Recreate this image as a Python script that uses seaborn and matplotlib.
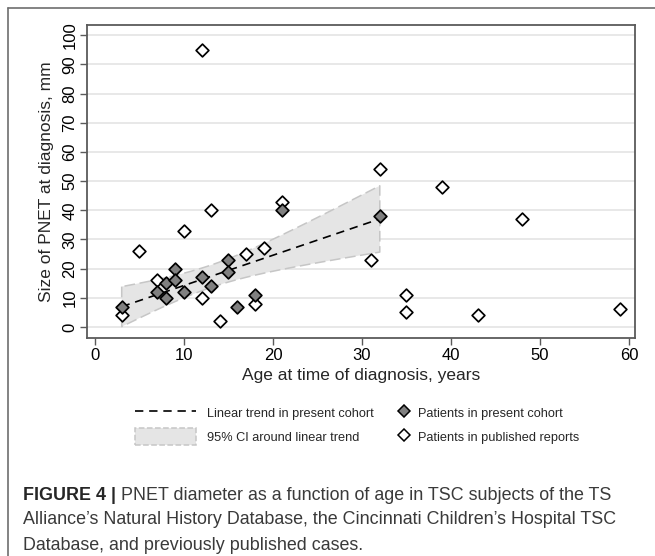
import matplotlib
matplotlib.use("Agg")
import matplotlib.pyplot as plt
from matplotlib.lines import Line2D
from matplotlib.patches import Patch
import seaborn as sns
import numpy as np
import pandas as pd

# Patients in present cohort (filled diamonds)
cohort_age = [3, 7, 8, 8, 9, 9, 10, 12, 13, 15, 15, 16, 18, 21, 32]
cohort_size = [7, 12, 15, 10, 20, 16, 12, 17, 14, 23, 19, 7, 11, 40, 38]

# Patients in published reports (open diamonds)
published_age = [3, 5, 7, 10, 12, 12, 13, 14, 17, 18, 19, 21, 31, 32, 35, 35, 39, 43, 48, 59]
published_size = [4, 26, 16, 33, 95, 10, 40, 2, 25, 8, 27, 43, 23, 54, 11, 5, 48, 4, 37, 6]

x_ticks = [0, 10, 20, 30, 40, 50, 60]
y_ticks = [0, 10, 20, 30, 40, 50, 60, 70, 80, 90, 100]

legend_labels = ["Linear trend in present cohort", "95% CI around linear trend",
                 "Patients in present cohort", "Patients in published reports"]

caption_bold = "FIGURE 4 |"
caption_lines = [
    " PNET diameter as a function of age in TSC subjects of the TS",
    "Alliance\u2019s Natural History Database, the Cincinnati Children\u2019s Hospital TSC",
    "Database, and previously published cases.",
]

T_975_DF13 = 2.160  # two-sided 95% t quantile, 13 degrees of freedom

sns.set_style("white")
plt.rcParams["font.family"] = ["Liberation Sans", "DejaVu Sans"]

FILL_GREY = "#808080"
SPINE = "#5a5a5a"

df_cohort = pd.DataFrame({"age": cohort_age, "size": cohort_size})
df_pub = pd.DataFrame({"age": published_age, "size": published_size})

fig = plt.figure(figsize=(6.55, 5.56), dpi=100)
ax = fig.add_axes([0.1328, 0.392, 0.837, 0.563])

# 95% CI band of the linear fit (analytic)
x = np.array(cohort_age, dtype=float)
y = np.array(cohort_size, dtype=float)
slope, intercept = np.polyfit(x, y, 1)
resid = y - (intercept + slope * x)
s = np.sqrt(np.sum(resid ** 2) / (len(x) - 2))
grid = np.linspace(x.min(), x.max(), 100)
se = s * np.sqrt(1 / len(x) + (grid - x.mean()) ** 2 / np.sum((x - x.mean()) ** 2))
fit = intercept + slope * grid
ax.fill_between(grid, fit - T_975_DF13 * se, fit + T_975_DF13 * se,
                facecolor="#e5e5e5", edgecolor="#c6c6c6", linewidth=1.1,
                linestyle=(0, (7, 3)), zorder=1)

sns.regplot(data=df_cohort, x="age", y="size", ax=ax, ci=None, scatter=False,
            truncate=True,
            line_kws={"color": "black", "lw": 1.2, "dashes": (5, 3.5), "zorder": 2})

sns.scatterplot(data=df_pub, x="age", y="size", ax=ax, marker="D", s=42,
                color="white", edgecolor="black", linewidth=1.25, zorder=3)
sns.scatterplot(data=df_cohort, x="age", y="size", ax=ax, marker="D", s=42,
                color=FILL_GREY, edgecolor="black", linewidth=1.25, zorder=4)

ax.set_xlim(-0.9, 60.7)
ax.set_ylim(-3.8, 103.5)
ax.set_xticks(x_ticks)
ax.set_yticks(y_ticks)
ax.yaxis.grid(True, color="#e6e6e6", lw=1.3)
ax.set_axisbelow(True)
for sp in ax.spines.values():
    sp.set_color(SPINE)
    sp.set_linewidth(1.3)
ax.tick_params(axis="both", direction="out", length=5, width=1, color=SPINE,
               labelsize=12, labelcolor="black", left=True, bottom=True, pad=2)
ax.tick_params(axis="y", labelrotation=90)
for lab in ax.get_yticklabels():
    lab.set_va("center")

ax.set_xlabel("Age at time of diagnosis, years", fontsize=12.5, labelpad=4)
ax.set_ylabel("Size of PNET at diagnosis, mm", fontsize=12.5, labelpad=6)

# legends
line_h = Line2D([], [], color="black", lw=1.2, dashes=(5, 3.5))
ci_h = Patch(facecolor="#e5e5e5", edgecolor="#c6c6c6", linestyle="--", linewidth=1.1)
filled_h = Line2D([], [], marker="D", ls="", mfc=FILL_GREY, mec="black", mew=1.1, ms=6.5)
open_h = Line2D([], [], marker="D", ls="", mfc="white", mec="black", mew=1.1, ms=6.5)

leg_kw = dict(frameon=False, fontsize=9.2, handleheight=1.6, labelspacing=0.55,
              borderpad=0, borderaxespad=0, loc="upper left")
leg1 = fig.legend([line_h, ci_h], legend_labels[:2], bbox_to_anchor=(135 / 655, 1 - 405 / 556),
                  handlelength=4.8, handletextpad=0.8, **leg_kw)
leg2 = fig.legend([filled_h, open_h], legend_labels[2:], bbox_to_anchor=(398 / 655, 1 - 405 / 556),
                  handlelength=0.9, handletextpad=0.7, numpoints=1, **leg_kw)

# outer frame
fig.add_artist(Line2D([7.5 / 655, 1], [1 - 8 / 556, 1 - 8 / 556], color="#6e6e6e", lw=1.2,
                      transform=fig.transFigure))
fig.add_artist(Line2D([7.5 / 655, 7.5 / 655], [0, 1 - 8 / 556], color="#6e6e6e", lw=1.2,
                      transform=fig.transFigure))

# caption
cap_x = 23 / 655
cap_y = [495, 520, 545]
cap_size = 12.9
bold = fig.text(cap_x, 1 - cap_y[0] / 556, caption_bold, fontsize=cap_size, fontweight="bold",
                color="#262626", va="center", ha="left")
fig.canvas.draw()
bb = bold.get_window_extent(renderer=fig.canvas.get_renderer())
fig.text(bb.x1 / fig.bbox.width, 1 - cap_y[0] / 556, caption_lines[0], fontsize=cap_size,
         color="#3a3a3a", va="center", ha="left")
for line, yy in zip(caption_lines[1:], cap_y[1:]):
    fig.text(cap_x, 1 - yy / 556, line, fontsize=cap_size, color="#3a3a3a", va="center", ha="left")

fig.savefig("out.png", dpi=100)
